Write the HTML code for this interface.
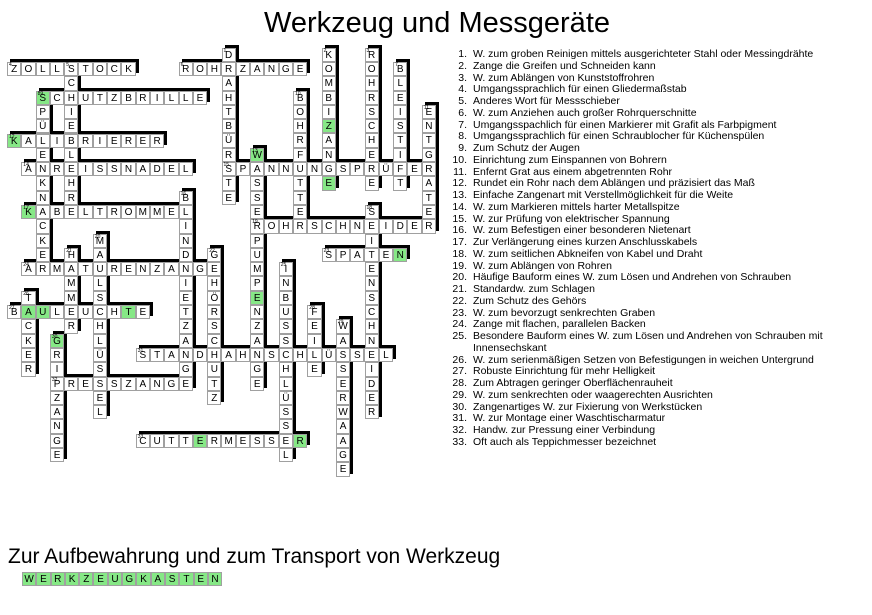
<!DOCTYPE html>
<html><head><meta charset="utf-8">
<style>
body{margin:0;width:872px;height:615px;background:#fff;position:relative;overflow:hidden;font-family:"Liberation Sans",Arial,sans-serif}
.s{position:absolute;background:#000;transform:translate(3px,-3px);width:calc(var(--w)*14.3px);height:calc(var(--h)*14.3px)}
.w{position:absolute;display:flex}
.d{flex-direction:column}
.w span{position:relative;width:14.3px;height:14.3px;box-sizing:border-box;border:1px solid #a0a0a0;background:#fff;font-size:10px;text-align:center;line-height:14px;color:#000;flex:none}
.w span.g{background:#86e886}
.w sup{position:absolute;left:1px;top:0px;font-size:5px;line-height:5px}
h1{position:absolute;left:0;width:874px;text-align:center;top:7px;margin:0;font-weight:normal;font-size:29px;line-height:32px}
.cl{position:absolute;left:440px;top:49px;font-size:10.5px;line-height:11.75px}
.cl div{display:flex}
.cl b{font-weight:normal;width:27px;text-align:right;flex:none}
.cl em{font-style:normal;margin-left:6px}
.bt{position:absolute;left:8px;top:545px;font-size:21px;line-height:24px}
</style></head><body>
<h1>Werkzeug und Messgeräte</h1>

<div class="s" style="left:7px;top:62px;--w:9;--h:1"></div>
<div class="s" style="left:178.6px;top:62px;--w:9;--h:1"></div>
<div class="s" style="left:35.6px;top:90.6px;--w:12;--h:1"></div>
<div class="s" style="left:7px;top:133.5px;--w:11;--h:1"></div>
<div class="s" style="left:21.3px;top:162.1px;--w:12;--h:1"></div>
<div class="s" style="left:221.5px;top:162.1px;--w:15;--h:1"></div>
<div class="s" style="left:21.3px;top:205px;--w:12;--h:1"></div>
<div class="s" style="left:250.1px;top:219.3px;--w:13;--h:1"></div>
<div class="s" style="left:321.6px;top:247.9px;--w:6;--h:1"></div>
<div class="s" style="left:21.3px;top:262.2px;--w:14;--h:1"></div>
<div class="s" style="left:7px;top:305.1px;--w:10;--h:1"></div>
<div class="s" style="left:135.7px;top:348px;--w:18;--h:1"></div>
<div class="s" style="left:49.9px;top:376.6px;--w:10;--h:1"></div>
<div class="s" style="left:135.7px;top:433.8px;--w:12;--h:1"></div>
<div class="s" style="left:221.5px;top:47.7px;--w:1;--h:11"></div>
<div class="s" style="left:321.6px;top:47.7px;--w:1;--h:10"></div>
<div class="s" style="left:364.5px;top:47.7px;--w:1;--h:10"></div>
<div class="s" style="left:393.1px;top:62px;--w:1;--h:9"></div>
<div class="s" style="left:64.2px;top:62px;--w:1;--h:11"></div>
<div class="s" style="left:35.6px;top:90.6px;--w:1;--h:13"></div>
<div class="s" style="left:293px;top:90.6px;--w:1;--h:10"></div>
<div class="s" style="left:421.7px;top:104.9px;--w:1;--h:9"></div>
<div class="s" style="left:250.1px;top:147.8px;--w:1;--h:17"></div>
<div class="s" style="left:178.6px;top:190.7px;--w:1;--h:14"></div>
<div class="s" style="left:364.5px;top:205px;--w:1;--h:15"></div>
<div class="s" style="left:92.8px;top:233.6px;--w:1;--h:13"></div>
<div class="s" style="left:64.2px;top:247.9px;--w:1;--h:6"></div>
<div class="s" style="left:207.2px;top:247.9px;--w:1;--h:11"></div>
<div class="s" style="left:278.7px;top:262.2px;--w:1;--h:14"></div>
<div class="s" style="left:21.3px;top:290.8px;--w:1;--h:6"></div>
<div class="s" style="left:307.3px;top:305.1px;--w:1;--h:5"></div>
<div class="s" style="left:335.9px;top:319.4px;--w:1;--h:11"></div>
<div class="s" style="left:49.9px;top:333.7px;--w:1;--h:9"></div>

<!-- down words -->
<div class="w d" style="left:221.5px;top:47.7px"><span><sup>1</sup>D</span><span>R</span><span>A</span><span>H</span><span>T</span><span>B</span><span>Ü</span><span>R</span><span>S</span><span>T</span><span>E</span></div>
<div class="w d" style="left:321.6px;top:47.7px"><span><sup>2</sup>K</span><span>O</span><span>M</span><span>B</span><span>I</span><span class="g">Z</span><span>A</span><span>N</span><span>G</span><span class="g">E</span></div>
<div class="w d" style="left:364.5px;top:47.7px"><span><sup>3</sup>R</span><span>O</span><span>H</span><span>R</span><span>S</span><span>C</span><span>H</span><span>E</span><span>R</span><span>E</span></div>
<div class="w d" style="left:393.1px;top:62px"><span><sup>7</sup>B</span><span>L</span><span>E</span><span>I</span><span>S</span><span>T</span><span>I</span><span>F</span><span>T</span></div>
<div class="w d" style="left:64.2px;top:62px"><span><sup>5</sup>S</span><span>C</span><span>H</span><span>I</span><span>E</span><span>B</span><span>L</span><span>E</span><span>H</span><span>R</span><span>E</span></div>
<div class="w d" style="left:35.6px;top:90.6px"><span class="g"><sup>8</sup>S</span><span>P</span><span>Ü</span><span>L</span><span>E</span><span>N</span><span>K</span><span>N</span><span>A</span><span>C</span><span>K</span><span>E</span><span>R</span></div>
<div class="w d" style="left:293px;top:90.6px"><span><sup>10</sup>B</span><span>O</span><span>H</span><span>R</span><span>F</span><span>U</span><span>T</span><span>T</span><span>E</span><span>R</span></div>
<div class="w d" style="left:421.7px;top:104.9px"><span><sup>11</sup>E</span><span>N</span><span>T</span><span>G</span><span>R</span><span>A</span><span>T</span><span>E</span><span>R</span></div>
<div class="w d" style="left:250.1px;top:147.8px"><span class="g"><sup>13</sup>W</span><span>A</span><span>S</span><span>S</span><span>E</span><span>R</span><span>P</span><span>U</span><span>M</span><span>P</span><span class="g">E</span><span>N</span><span>Z</span><span>A</span><span>N</span><span>G</span><span>E</span></div>
<div class="w d" style="left:178.6px;top:190.7px"><span><sup>16</sup>B</span><span>L</span><span>I</span><span>N</span><span>D</span><span>N</span><span>I</span><span>E</span><span>T</span><span>Z</span><span>A</span><span>N</span><span>G</span><span>E</span></div>
<div class="w d" style="left:364.5px;top:205px"><span><sup>18</sup>S</span><span>E</span><span>I</span><span>T</span><span>E</span><span>N</span><span>S</span><span>C</span><span>H</span><span>N</span><span>E</span><span>I</span><span>D</span><span>E</span><span>R</span></div>
<div class="w d" style="left:92.8px;top:233.6px"><span><sup>20</sup>M</span><span>A</span><span>U</span><span>L</span><span>S</span><span>C</span><span>H</span><span>L</span><span>Ü</span><span>S</span><span>S</span><span>E</span><span>L</span></div>
<div class="w d" style="left:64.2px;top:247.9px"><span><sup>21</sup>H</span><span>A</span><span>M</span><span>M</span><span>E</span><span>R</span></div>
<div class="w d" style="left:207.2px;top:247.9px"><span><sup>22</sup>G</span><span>E</span><span>H</span><span>Ö</span><span>R</span><span>S</span><span>C</span><span>H</span><span>U</span><span>T</span><span>Z</span></div>
<div class="w d" style="left:278.7px;top:262.2px"><span><sup>25</sup>I</span><span>N</span><span>B</span><span>U</span><span>S</span><span>S</span><span>C</span><span>H</span><span>L</span><span>Ü</span><span>S</span><span>S</span><span>E</span><span>L</span></div>
<div class="w d" style="left:21.3px;top:290.8px"><span><sup>26</sup>T</span><span class="g">A</span><span>C</span><span>K</span><span>E</span><span>R</span></div>
<div class="w d" style="left:307.3px;top:305.1px"><span><sup>28</sup>F</span><span>E</span><span>I</span><span>L</span><span>E</span></div>
<div class="w d" style="left:335.9px;top:319.4px"><span><sup>29</sup>W</span><span>A</span><span>S</span><span>S</span><span>E</span><span>R</span><span>W</span><span>A</span><span>A</span><span>G</span><span>E</span></div>
<div class="w d" style="left:49.9px;top:333.7px"><span class="g"><sup>30</sup>G</span><span>R</span><span>I</span><span>P</span><span>Z</span><span>A</span><span>N</span><span>G</span><span>E</span></div>

<!-- across words -->
<div class="w" style="left:7px;top:62px"><span><sup>4</sup>Z</span><span>O</span><span>L</span><span>L</span><span><sup>5</sup>S</span><span>T</span><span>O</span><span>C</span><span>K</span></div>
<div class="w" style="left:178.6px;top:62px"><span><sup>6</sup>R</span><span>O</span><span>H</span><span>R</span><span>Z</span><span>A</span><span>N</span><span>G</span><span>E</span></div>
<div class="w" style="left:35.6px;top:90.6px"><span class="g"><sup>89</sup>S</span><span>C</span><span>H</span><span>U</span><span>T</span><span>Z</span><span>B</span><span>R</span><span>I</span><span>L</span><span>L</span><span>E</span></div>
<div class="w" style="left:7px;top:133.5px"><span class="g"><sup>12</sup>K</span><span>A</span><span>L</span><span>I</span><span>B</span><span>R</span><span>I</span><span>E</span><span>R</span><span>E</span><span>R</span></div>
<div class="w" style="left:21.3px;top:162.1px"><span><sup>14</sup>A</span><span>N</span><span>R</span><span>E</span><span>I</span><span>S</span><span>S</span><span>N</span><span>A</span><span>D</span><span>E</span><span>L</span></div>
<div class="w" style="left:221.5px;top:162.1px"><span><sup>15</sup>S</span><span>P</span><span>A</span><span>N</span><span>N</span><span>U</span><span>N</span><span>G</span><span>S</span><span>P</span><span>R</span><span>Ü</span><span>F</span><span>E</span><span>R</span></div>
<div class="w" style="left:21.3px;top:205px"><span class="g"><sup>17</sup>K</span><span>A</span><span>B</span><span>E</span><span>L</span><span>T</span><span>R</span><span>O</span><span>M</span><span>M</span><span>E</span><span>L</span></div>
<div class="w" style="left:250.1px;top:219.3px"><span><sup>19</sup>R</span><span>O</span><span>H</span><span>R</span><span>S</span><span>C</span><span>H</span><span>N</span><span>E</span><span>I</span><span>D</span><span>E</span><span>R</span></div>
<div class="w" style="left:321.6px;top:247.9px"><span><sup>23</sup>S</span><span>P</span><span>A</span><span>T</span><span>E</span><span class="g">N</span></div>
<div class="w" style="left:21.3px;top:262.2px"><span><sup>24</sup>A</span><span>R</span><span>M</span><span>A</span><span>T</span><span>U</span><span>R</span><span>E</span><span>N</span><span>Z</span><span>A</span><span>N</span><span>G</span><span>E</span></div>
<div class="w" style="left:7px;top:305.1px"><span><sup>27</sup>B</span><span class="g">A</span><span class="g">U</span><span>L</span><span>E</span><span>U</span><span>C</span><span>H</span><span class="g">T</span><span>E</span></div>
<div class="w" style="left:135.7px;top:348px"><span><sup>31</sup>S</span><span>T</span><span>A</span><span>N</span><span>D</span><span>H</span><span>A</span><span>H</span><span>N</span><span>S</span><span>C</span><span>H</span><span>L</span><span>Ü</span><span>S</span><span>S</span><span>E</span><span>L</span></div>
<div class="w" style="left:49.9px;top:376.6px"><span><sup>32</sup>P</span><span>R</span><span>E</span><span>S</span><span>S</span><span>Z</span><span>A</span><span>N</span><span>G</span><span>E</span></div>
<div class="w" style="left:135.7px;top:433.8px"><span><sup>33</sup>C</span><span>U</span><span>T</span><span>T</span><span class="g">E</span><span>R</span><span>M</span><span>E</span><span>S</span><span>S</span><span>E</span><span class="g">R</span></div>

<div class="cl">
<div><b>1.</b><em>W. zum groben Reinigen mittels ausgerichteter Stahl oder Messingdrähte</em></div>
<div><b>2.</b><em>Zange die Greifen und Schneiden kann</em></div>
<div><b>3.</b><em>W. zum Ablängen von Kunststoffrohren</em></div>
<div><b>4.</b><em>Umgangssprachlich für einen Gliedermaßstab</em></div>
<div><b>5.</b><em>Anderes Wort für Messschieber</em></div>
<div><b>6.</b><em>W. zum Anziehen auch großer Rohrquerschnitte</em></div>
<div><b>7.</b><em>Umgangsspachlich für einen Markierer mit Grafit als Farbpigment</em></div>
<div><b>8.</b><em>Umgangssprachlich für einen Schraublocher für Küchenspülen</em></div>
<div><b>9.</b><em>Zum Schutz der Augen</em></div>
<div><b>10.</b><em>Einrichtung zum Einspannen von Bohrern</em></div>
<div><b>11.</b><em>Enfernt Grat aus einem abgetrennten Rohr</em></div>
<div><b>12.</b><em>Rundet ein Rohr nach dem Ablängen und präzisiert das Maß</em></div>
<div><b>13.</b><em>Einfache Zangenart mit Verstellmöglichkeit für die Weite</em></div>
<div><b>14.</b><em>W. zum Markieren mittels harter Metallspitze</em></div>
<div><b>15.</b><em>W. zur Prüfung von elektrischer Spannung</em></div>
<div><b>16.</b><em>W. zum Befestigen einer besonderen Nietenart</em></div>
<div><b>17.</b><em>Zur Verlängerung eines kurzen Anschlusskabels</em></div>
<div><b>18.</b><em>W. zum seitlichen Abkneifen von Kabel und Draht</em></div>
<div><b>19.</b><em>W. zum Ablängen von Rohren</em></div>
<div><b>20.</b><em>Häufige Bauform eines W. zum Lösen und Andrehen von Schrauben</em></div>
<div><b>21.</b><em>Standardw. zum Schlagen</em></div>
<div><b>22.</b><em>Zum Schutz des Gehörs</em></div>
<div><b>23.</b><em>W. zum bevorzugt senkrechten Graben</em></div>
<div><b>24.</b><em>Zange mit flachen, parallelen Backen</em></div>
<div><b>25.</b><em>Besondere Bauform eines W. zum Lösen und Andrehen von Schrauben mit<br>Innensechskant</em></div>
<div><b>26.</b><em>W. zum serienmäßigen Setzen von Befestigungen in weichen Untergrund</em></div>
<div><b>27.</b><em>Robuste Einrichtung für mehr Helligkeit</em></div>
<div><b>28.</b><em>Zum Abtragen geringer Oberflächenrauheit</em></div>
<div><b>29.</b><em>W. zum senkrechten oder waagerechten Ausrichten</em></div>
<div><b>30.</b><em>Zangenartiges W. zur Fixierung von Werkstücken</em></div>
<div><b>31.</b><em>W. zur Montage einer Waschtischarmatur</em></div>
<div><b>32.</b><em>Handw. zur Pressung einer Verbindung</em></div>
<div><b>33.</b><em>Oft auch als Teppichmesser bezeichnet</em></div>
</div>

<div class="bt">Zur Aufbewahrung und zum Transport von Werkzeug</div>
<div class="w" style="left:22px;top:572px"><span class="g">W</span><span class="g">E</span><span class="g">R</span><span class="g">K</span><span class="g">Z</span><span class="g">E</span><span class="g">U</span><span class="g">G</span><span class="g">K</span><span class="g">A</span><span class="g">S</span><span class="g">T</span><span class="g">E</span><span class="g">N</span></div>
</body></html>
